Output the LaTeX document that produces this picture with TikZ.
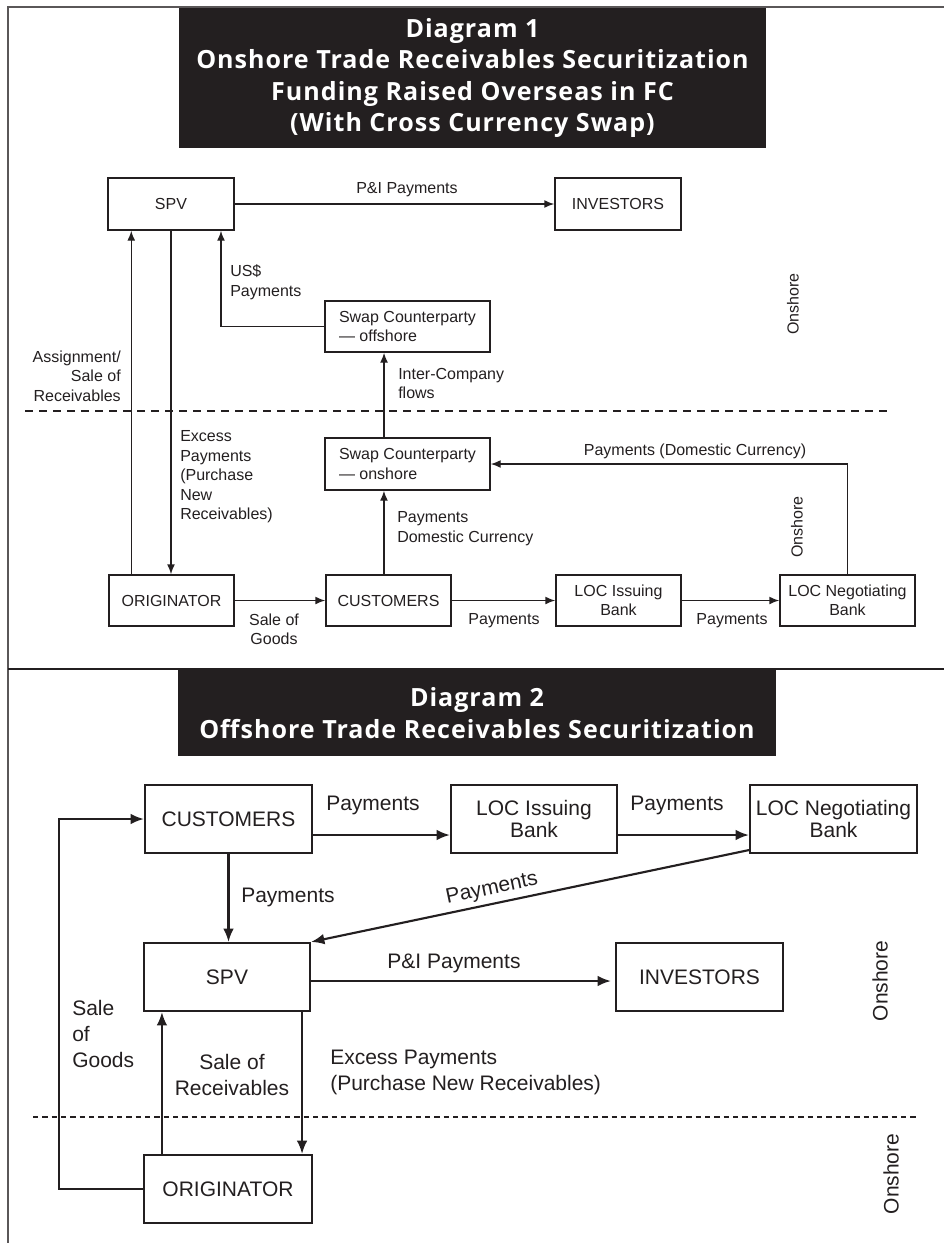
\documentclass[tikz,border=0pt]{standalone}
\usepackage{fontspec}
\setmainfont{Liberation Sans}
\newfontfamily\ttlfont[LetterSpace=4]{Open Sans}
\usetikzlibrary{arrows.meta,calc}
\definecolor{ink}{HTML}{231F20}
\begin{document}
\begin{tikzpicture}[x=0.75pt,y=-0.75pt,
  ttl/.style={fill=ink,inner sep=0pt,text=white,font=\ttlfont\bfseries\fontsize{18.8}{23.6}\selectfont,align=center},
  bxa/.style={draw=ink,line width=1.1pt,inner sep=0pt,align=center,font=\fontsize{12}{14.6}\selectfont,text=ink},
  bxb/.style={draw=ink,line width=1.6pt,inner sep=0pt,align=center,font=\fontsize{15.75}{17.2}\selectfont,text=ink},
  la/.style={inner sep=0pt,font=\fontsize{12}{14.6}\selectfont,text=ink},
  lb/.style={inner sep=0pt,font=\fontsize{15.75}{19.5}\selectfont,text=ink},
  ara/.style={draw=ink,line width=1.1pt,-{Latex[length=7.5pt,width=6pt]}},
  arb/.style={draw=ink,line width=1.6pt,-{Latex[length=10pt,width=8pt]}},
]
\useasboundingbox (0,0) rectangle (944,1243);
% frame
\draw[line width=1pt,draw=ink!75] (944,7) -- (8,7) -- (8,1243);
\draw[line width=1.6pt,draw=ink] (8,669) -- (944,669);
% titles
\node[ttl,minimum width=440.25pt,minimum height=105pt] (t1) at (472.5,78) {Diagram 1\\Onshore Trade Receivables Securitization\\Funding Raised Overseas in FC\\(With Cross Currency Swap)};
\node[ttl,minimum width=448.5pt,minimum height=64.5pt] (t2) at (477,713) {Diagram 2\\Offshore Trade Receivables Securitization};

% ---------------- Diagram 1 ----------------
\node[bxa,minimum width=94.5pt,minimum height=39pt] (spv1) at (171,204) {SPV};
\node[bxa,minimum width=94.5pt,minimum height=39pt] (inv1) at (618,204) {INVESTORS};
\node[bxa,minimum width=123.75pt,minimum height=38.25pt,align=left] (swoff) at (407.5,326.5) {Swap Counterparty\\— offshore};
\node[bxa,minimum width=123.75pt,minimum height=39pt,align=left] (swon) at (407.5,464) {Swap Counterparty\\— onshore};
\node[bxa,minimum width=93.75pt,minimum height=38.25pt] (orig1) at (171.5,600.5) {ORIGINATOR};
\node[bxa,minimum width=93.75pt,minimum height=38.25pt] (cust1) at (388.5,600.5) {CUSTOMERS};
\node[bxa,minimum width=93.75pt,minimum height=38.25pt] (loci1) at (618.5,600.5) {LOC Issuing\\Bank};
\node[bxa,minimum width=101.25pt,minimum height=38.25pt] (locn1) at (847.5,600.5) {LOC Negotiating\\Bank};

\draw[ara] (spv1.east) -- (inv1.west);
\draw[ara] (swoff.west) -| ([xshift=37.5pt]spv1.south);
\draw[ara] ([xshift=17.25pt]orig1.north west) -- ([xshift=18pt]spv1.south west);
\draw[ara] (spv1.south) -- (spv1.south |- orig1.north);
\draw[ara] ([xshift=-3.4pt]cust1.north) -- ([xshift=-3.4pt]cust1.north |- swon.south);
\draw[ara] ([xshift=-17.6pt]swon.north) -- ([xshift=-17.6pt]swoff.south);
\draw[ara] (locn1.north) |- (swon.east);
\draw[ara] (orig1.east) -- (cust1.west);
\draw[ara] (cust1.east) -- (loci1.west);
\draw[ara] (loci1.east) -- (locn1.west);
\draw[draw=ink,line width=1pt,dash pattern=on 6pt off 4.5pt] (25,411) coordinate (d1a) -- (893,411) coordinate (d1b);

\node[la] (l1) at (407,190) {P\&I Payments};
\node[la,anchor=west,align=left] (l2) at (230,282) {US\$\\Payments};
\node[la,anchor=east,align=right] (l3) at (121,376) {Assignment/\\Sale of\\Receivables};
\node[la,anchor=west,align=left] (l4) at (180,477) {Excess\\Payments\\(Purchase\\New\\Receivables)};
\node[la,anchor=west,align=left] (l5) at (398,383.5) {Inter-Company\\flows};
\node[la,anchor=west,align=left] (l6) at (397,528.5) {Payments\\Domestic Currency};
\node[la] (l7) at (695,451) {Payments (Domestic Currency)};
\node[la,align=center] (l8) at (274,629.5) {Sale of\\Goods};
\node[la] (l9) at (504,621) {Payments};
\node[la] (l10) at (732,621) {Payments};
\node[la,rotate=90] (l11) at (793,304) {Onshore};
\node[la,rotate=90] (l12) at (797,527) {Onshore};

% ---------------- Diagram 2 ----------------
\node[bxb,minimum width=125.25pt,minimum height=51pt] (cust2) at (228.5,819) {CUSTOMERS};
\node[bxb,minimum width=124.5pt,minimum height=51pt] (loci2) at (534,819) {LOC Issuing\\Bank};
\node[bxb,minimum width=125.25pt,minimum height=51pt] (locn2) at (833.5,819) {LOC Negotiating\\Bank};
\node[bxb,minimum width=124.5pt,minimum height=51pt] (spv2) at (227,977) {SPV};
\node[bxb,minimum width=125.25pt,minimum height=51pt] (inv2) at (699.5,977) {INVESTORS};
\node[bxb,minimum width=126pt,minimum height=51pt] (orig2) at (228,1189) {ORIGINATOR};

\draw[arb] (orig2.west) -| ([xshift=-63.75pt]cust2.west) -- (cust2.west);
\draw[arb] ([yshift=-12pt]cust2.east) -- ([yshift=-12pt]cust2.east -| loci2.west);
\draw[arb] ([yshift=-12pt]loci2.east) -- ([yshift=-12pt]loci2.east -| locn2.west);
\draw[arb] (cust2.south) -- (cust2.south |- spv2.north);
\draw[arb] ([yshift=3pt]locn2.south west) -- node[lb,sloped,above=3pt,pos=0.58] (l21) {Payments} (spv2.north east);
\draw[arb,shorten >=3pt] ([yshift=-3pt]spv2.east) -- ([yshift=-3pt]spv2.east -| inv2.west);
\draw[arb] ([xshift=14.25pt]orig2.north west) -- ([xshift=14.25pt]orig2.north west |- spv2.south);
\draw[arb] ([xshift=-6.75pt]spv2.south east) -- ([xshift=-6.75pt]spv2.south east |- orig2.north);
\draw[draw=ink,line width=0.8pt,dash pattern=on 4pt off 3pt] (33,1117) coordinate (d2a) -- (918,1117) coordinate (d2b);

\node[lb] (l22) at (373,805) {Payments};
\node[lb] (l23) at (677,805) {Payments};
\node[lb,anchor=west] (l24) at (241,897) {Payments};
\node[lb] (l25) at (454,963) {P\&I Payments};
\node[lb,anchor=west,align=left] (l26) at (72,1034) {Sale\\of\\Goods};
\node[lb,align=center] (l27) at (232,1075) {Sale of\\Receivables};
\node[lb,anchor=west,align=left] (l28) at (330,1072.5) {Excess Payments\\(Purchase New Receivables)};
\node[lb,rotate=90] (l29) at (880,981) {Onshore};
\node[lb,rotate=90] (l30) at (891,1174) {Onshore};
\end{tikzpicture}
\end{document}
